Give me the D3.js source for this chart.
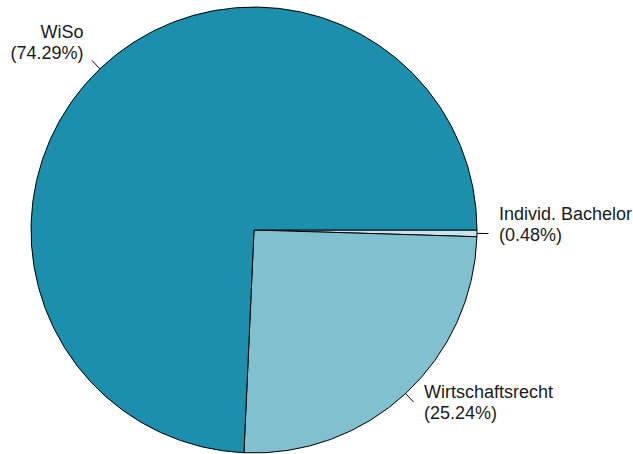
<!DOCTYPE html>
<html>
<head>
<meta charset="utf-8">
<script src="https://cdn.jsdelivr.net/npm/d3@7"></script>
<style>
  html, body { margin: 0; padding: 0; background: #fff; }
  svg { display: block; }
  text { font-family: "Liberation Sans", Arial, sans-serif; font-size: 18px; fill: #1a1a1a; }
</style>
</head>
<body>
<svg id="chart" width="633" height="454"></svg>
<script>
// Study programmes and their share of students (%)
const categories = ["Individ. Bachelor", "Wirtschaftsrecht", "WiSo"];
const shares = [0.48, 25.24, 74.29];
const colors = ["#c6e4eb", "#81c1cf", "#1b8fab"];

const width = 633, height = 454;
const cx = 254, cy = 230, radius = 223;

const svg = d3.select("#chart");
const g = svg.append("g").attr("transform", `translate(${cx},${cy})`);

const data = categories.map((c, i) => ({ name: c, value: shares[i], color: colors[i] }));

// Slices run clockwise starting at 3 o'clock
const pie = d3.pie()
  .value(d => d.value)
  .sort(null)
  .startAngle(Math.PI / 2)
  .endAngle(Math.PI / 2 + 2 * Math.PI);

const arc = d3.arc().innerRadius(0).outerRadius(radius);
const arcs = pie(data);

g.selectAll("path.slice")
  .data(arcs)
  .join("path")
  .attr("class", "slice")
  .attr("d", arc)
  .attr("fill", d => d.data.color)
  .attr("stroke", "#000")
  .attr("stroke-width", 1)
  .attr("stroke-linejoin", "round");

// Short radial leader ticks plus two-line labels
const tickLen = 11.5, lineH = 21;
arcs.forEach(a => {
  const mid = (a.startAngle + a.endAngle) / 2;
  const dx = Math.sin(mid), dy = -Math.cos(mid);
  const x0 = dx * radius, y0 = dy * radius;
  const x1 = dx * (radius + tickLen), y1 = dy * (radius + tickLen);
  g.append("line")
    .attr("x1", x0).attr("y1", y0)
    .attr("x2", x1).attr("y2", y1)
    .attr("stroke", "#000").attr("stroke-width", 1);

  const right = dx >= 0;
  const tx = x1 + (right ? 10.5 : -8.5);
  // vertical centre of the two-line block (cap-height centre)
  const blockMid = y1 - 9.5 + 12.5 * dy;
  const t = g.append("text")
    .attr("text-anchor", right ? "start" : "end");
  t.append("tspan").attr("x", tx).attr("y", blockMid + 6.5 - lineH / 2).text(a.data.name);
  t.append("tspan").attr("x", tx).attr("y", blockMid + 6.5 + lineH / 2)
    .text(`(${a.data.value.toFixed(2)}%)`);
});
</script>
</body>
</html>
